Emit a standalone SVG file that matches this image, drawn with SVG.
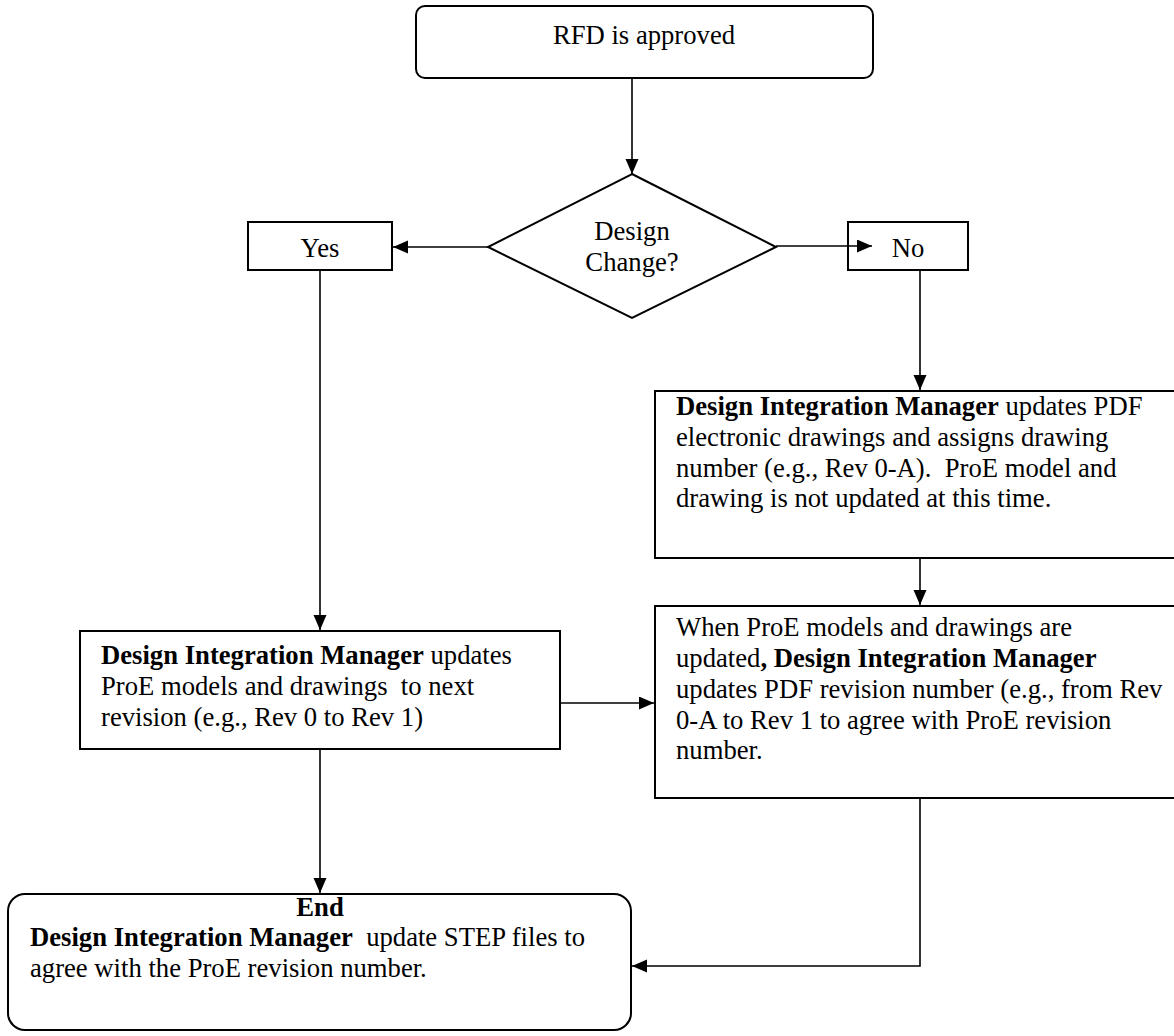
<svg xmlns="http://www.w3.org/2000/svg" width="1174" height="1036" viewBox="0 0 1174 1036">
<style>
.box{fill:#fff;stroke:#000;stroke-width:2}
.t{font-family:"Liberation Serif","Times New Roman",serif;font-size:26.67px;fill:#000}
.c{text-anchor:middle}
.b{font-weight:bold}
.con{fill:none;stroke:#000;stroke-width:1.6}
</style>
<defs>
<marker id="ah" markerUnits="userSpaceOnUse" markerWidth="16" markerHeight="14" refX="15" refY="6.5" orient="auto">
<path d="M0,0 L15,6.5 L0,13 z" fill="#000"/>
</marker>
</defs>
<g id="start">
<rect class="box" x="416" y="6" width="457" height="72" rx="9"/>
<text class="t c" x="644" y="44">RFD is approved</text>
</g>
<g id="decision">
<polygon class="box" points="632,174 776,247 632,318 488,247"/>
<text class="t c" x="632" y="240">Design</text>
<text class="t c" x="632" y="271">Change?</text>
</g>
<g id="yes">
<rect class="box" x="248" y="222" width="144" height="48"/>
<text class="t c" x="320" y="257">Yes</text>
</g>
<g id="no">
<rect class="box" x="848" y="222" width="120" height="48"/>
<text class="t c" x="908" y="257">No</text>
</g>
<g id="pdfUpdate">
<rect class="box" x="655" y="391" width="530" height="167"/>
<text class="t" x="676" y="415"><tspan class="b">Design Integration Manager</tspan> updates PDF</text>
<text class="t" x="676" y="446">electronic drawings and assigns drawing</text>
<text class="t" x="676" y="477" xml:space="preserve">number (e.g., Rev 0-A).  ProE model and</text>
<text class="t" x="676" y="507">drawing is not updated at this time.</text>
</g>
<g id="pdfRevision">
<rect class="box" x="655" y="606" width="530" height="192"/>
<text class="t" x="676" y="636">When ProE models and drawings are</text>
<text class="t" x="676" y="667">updated<tspan class="b">, Design Integration Manager</tspan></text>
<text class="t" x="676" y="698">updates PDF revision number (e.g., from Rev</text>
<text class="t" x="676" y="729">0-A to Rev 1 to agree with ProE revision</text>
<text class="t" x="676" y="759">number.</text>
</g>
<g id="proeUpdate">
<rect class="box" x="80" y="631" width="480" height="118"/>
<text class="t" x="101" y="664"><tspan class="b">Design Integration Manager</tspan> updates</text>
<text class="t" x="101" y="695" xml:space="preserve">ProE models and drawings  to next</text>
<text class="t" x="101" y="726">revision (e.g., Rev 0 to Rev 1)</text>
</g>
<g id="end">
<rect class="box" x="8" y="894" width="623" height="136" rx="17"/>
<text class="t c b" x="320" y="916">End</text>
<text class="t" x="30" y="946" xml:space="preserve"><tspan class="b">Design Integration Manager</tspan>  update STEP files to</text>
<text class="t" x="30" y="977">agree with the ProE revision number.</text>
</g>
<g id="connectors">
<line class="con" x1="632" y1="78" x2="632" y2="174" marker-end="url(#ah)"/>
<line class="con" x1="488" y1="247" x2="393" y2="247" marker-end="url(#ah)"/>
<line class="con" x1="776" y1="246" x2="872" y2="246" marker-end="url(#ah)"/>
<line class="con" x1="920" y1="270" x2="920" y2="390" marker-end="url(#ah)"/>
<line class="con" x1="920" y1="558" x2="920" y2="605" marker-end="url(#ah)"/>
<line class="con" x1="320" y1="270" x2="320" y2="630" marker-end="url(#ah)"/>
<line class="con" x1="560" y1="703" x2="654" y2="703" marker-end="url(#ah)"/>
<line class="con" x1="320" y1="749" x2="320" y2="893" marker-end="url(#ah)"/>
<polyline class="con" points="920,798 920,966 632,966" marker-end="url(#ah)"/>
</g>
</svg>
